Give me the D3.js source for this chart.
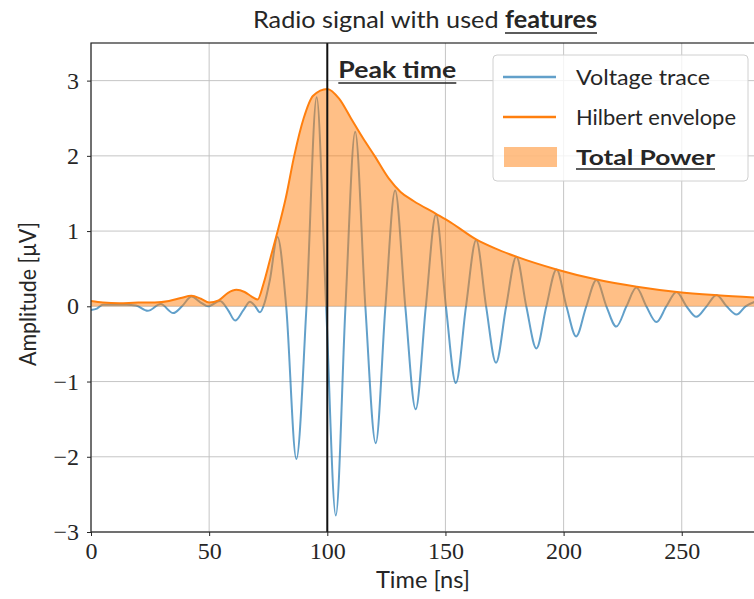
<!DOCTYPE html>
<html>
<head>
<meta charset="utf-8">
<script src="https://cdn.jsdelivr.net/npm/d3@7"></script>
<style>
body { margin: 0; background: #fff; }
text { fill: #262626; }
</style>
</head>
<body>
<svg id="chart" width="754" height="599"></svg>
<script>
"use strict";

// voltage trace, read at extrema and zero crossings [ns], [uV]
var trace_t = [0, 2.5, 5, 10, 15, 19, 24, 29.5, 34.8, 38.5, 42.6, 46, 49.6, 54.6, 58, 61, 64.5, 67.3, 69.5, 71.5, 73.5, 75.7,
    78.9, 82.6, 86.9, 91.2, 95.5, 99.5, 103.6, 107.7, 111.8, 116.1, 120.5, 124.6, 128.7, 133, 137.4, 141.7, 146,
    150.2, 154.4, 158.7, 163, 167.2, 171.4, 175.7, 180, 184.2, 188.5, 192.7, 197, 201.2, 205.3, 209.6, 213.9,
    218.1, 222.3, 226.6, 230.8, 235, 239.3, 243.5, 247.8, 252, 256.2, 260.5, 264.7, 269, 273.2, 277, 281];
var trace_v = [-0.05, -0.03, 0.02, 0.02, 0.02, 0.01, -0.06, 0.03, -0.09, 0.0, 0.13, 0.06, 0.0, 0.07, -0.05, -0.19, -0.05, 0.06, 0.0, -0.08, 0.05, 0.35,
    0.92, 0, -2.03, 0, 2.78, 0, -2.78, 0, 2.32, 0, -1.82, 0, 1.54, 0, -1.37, 0, 1.22,
    0, -1.02, 0, 0.88, 0, -0.75, 0, 0.66, 0, -0.56, 0, 0.49, 0, -0.40, 0, 0.35,
    0, -0.27, 0, 0.25, 0, -0.21, 0, 0.19, 0, -0.14, 0, 0.15, 0, -0.11, 0, 0.06];

// hilbert envelope
var env_t = [0, 5, 12, 20, 27, 33, 38, 42.5, 46.5, 50, 54, 58, 61.5, 65, 68, 70.5, 73, 76, 79, 82.5, 86, 90, 94,
    100, 105, 110, 115, 120, 126, 131, 136.5, 146, 152, 163, 171, 180, 197, 214, 231, 248, 265, 281];
var env_v = [0.07, 0.05, 0.04, 0.05, 0.05, 0.07, 0.11, 0.14, 0.10, 0.05, 0.08, 0.18, 0.22, 0.19, 0.13, 0.09, 0.3, 0.65, 1.0, 1.45, 2.0, 2.5, 2.8,
    2.89, 2.76, 2.5, 2.24, 2.0, 1.7, 1.52, 1.4, 1.23, 1.12, 0.89, 0.77, 0.66, 0.49, 0.355, 0.26, 0.19, 0.146, 0.115];

var x_ticks = [0, 50, 100, 150, 200, 250];
var y_ticks = [-3, -2, -1, 0, 1, 2, 3];
var peak_time = 100;
var legend_labels = ["Voltage trace", "Hilbert envelope", "Total Power"];

var sans = "Lato, 'Open Sans', sans-serif";
var serif = "'Liberation Serif', 'DejaVu Serif', serif";

var margin = {left: 91, top: 43, right: 755, bottom: 532};
var blue = "#1f77b4", orange = "#ff7f0e";

var svg = d3.select("#chart");

var x = d3.scaleLinear().domain([0, 281]).range([margin.left, margin.right]);
var y = d3.scaleLinear().domain([-3, 3.5]).range([margin.bottom, margin.top]);

function zip(ts, vs) {
    return ts.map(function(t, i) { return {t: t, v: vs[i]}; });
}
var trace = zip(trace_t, trace_v);
var env = zip(env_t, env_v);

// stretch a text to a given width (the reference font is narrower)
function fit(sel, width) {
    sel.attr("textLength", width).attr("lengthAdjust", "spacingAndGlyphs");
    return sel;
}

function underline(sel, from, to, dy) {
    var node = sel.node();
    var a = node.getExtentOfChar(from), b = node.getExtentOfChar(to);
    svg.append("line")
        .attr("x1", a.x).attr("x2", b.x + b.width)
        .attr("y1", a.y + a.height + dy).attr("y2", a.y + a.height + dy)
        .attr("stroke", "#262626").attr("stroke-width", 1.6);
}

svg.append("defs").append("clipPath").attr("id", "clip")
    .append("rect")
    .attr("x", margin.left).attr("y", margin.top)
    .attr("width", margin.right - margin.left).attr("height", margin.bottom - margin.top);

// grid
var grid = svg.append("g").attr("stroke", "#b0b0b0").attr("stroke-width", 0.9).attr("opacity", 0.8);
grid.selectAll("line.v").data(x_ticks).enter().append("line")
    .attr("x1", x).attr("x2", x).attr("y1", margin.top).attr("y2", margin.bottom);
grid.selectAll("line.h").data(y_ticks).enter().append("line")
    .attr("x1", margin.left).attr("x2", margin.right).attr("y1", y).attr("y2", y);

var plot = svg.append("g").attr("clip-path", "url(#clip)");

var line = d3.line().curve(d3.curveMonotoneX)
    .x(function(d) { return x(d.t); })
    .y(function(d) { return y(d.v); });
var area = d3.area().curve(d3.curveMonotoneX)
    .x(function(d) { return x(d.t); })
    .y0(y(0))
    .y1(function(d) { return y(d.v); });

plot.append("path").attr("d", line(trace))
    .attr("fill", "none").attr("stroke", blue).attr("stroke-width", 2).attr("stroke-opacity", 0.7);
plot.append("path").attr("d", area(env))
    .attr("fill", orange).attr("fill-opacity", 0.5);
plot.append("path").attr("d", line(env))
    .attr("fill", "none").attr("stroke", orange).attr("stroke-width", 2);

// peak time marker
svg.append("line")
    .attr("x1", x(peak_time)).attr("x2", x(peak_time))
    .attr("y1", margin.top).attr("y2", margin.bottom)
    .attr("stroke", "#111").attr("stroke-width", 2);
var peak_label = svg.append("text")
    .attr("x", x(peak_time) + 11).attr("y", 78)
    .attr("font-family", sans).attr("font-size", 22).attr("font-weight", "bold")
    .text("Peak time");
fit(peak_label, 118);
underline(peak_label, 0, 8, 0);

// axes
var x_axis = svg.append("g").attr("transform", "translate(0," + margin.bottom + ")")
    .call(d3.axisBottom(x).tickValues(x_ticks).tickSize(4).tickPadding(6).tickFormat(d3.format("d")));
var y_axis = svg.append("g").attr("transform", "translate(" + margin.left + ",0)")
    .call(d3.axisLeft(y).tickValues(y_ticks).tickSize(4).tickPadding(8).tickFormat(d3.format("d")));
[x_axis, y_axis].forEach(function(ax) {
    ax.select(".domain").remove();
    ax.selectAll(".tick line").attr("stroke", "#262626").attr("stroke-width", 1);
    ax.selectAll(".tick text").attr("font-family", serif).attr("font-size", 24).attr("fill", "#262626");
});

// spines
svg.append("rect")
    .attr("x", margin.left).attr("y", margin.top)
    .attr("width", margin.right - margin.left).attr("height", margin.bottom - margin.top)
    .attr("fill", "none").attr("stroke", "#262626").attr("stroke-width", 1.2);

// legend
var lg = svg.append("g");
lg.append("rect")
    .attr("x", 493).attr("y", 55).attr("width", 255).attr("height", 126).attr("rx", 4)
    .attr("fill", "#fff").attr("fill-opacity", 0.8).attr("stroke", "#d0d0d0");
var row_y = d3.scalePoint().domain(legend_labels).range([77, 157]);
lg.append("line").attr("x1", 503).attr("x2", 556).attr("y1", row_y(legend_labels[0])).attr("y2", row_y(legend_labels[0]))
    .attr("stroke", blue).attr("stroke-opacity", 0.7).attr("stroke-width", 2.5);
lg.append("line").attr("x1", 503).attr("x2", 556).attr("y1", row_y(legend_labels[1])).attr("y2", row_y(legend_labels[1]))
    .attr("stroke", orange).attr("stroke-width", 2.5);
lg.append("rect").attr("x", 504).attr("y", row_y(legend_labels[2]) - 10).attr("width", 53).attr("height", 20)
    .attr("fill", orange).attr("fill-opacity", 0.5);
var legend_widths = [134, 160, 139];
legend_labels.forEach(function(label, i) {
    var t = lg.append("text")
        .attr("x", 576).attr("y", row_y(label) + 8)
        .attr("font-family", sans).attr("font-size", 21)
        .attr("font-weight", i === 2 ? "bold" : "normal")
        .text(label);
    fit(t, legend_widths[i]);
    if(i === 2) underline(t, 0, label.length - 1, 0);
});

// title
var title = svg.append("text")
    .attr("x", 253).attr("y", 28)
    .attr("font-family", sans).attr("font-size", 24);
title.append("tspan").text("Radio signal with used ");
title.append("tspan").attr("font-weight", "bold").text("features");
fit(title, 344);
underline(title, 23, 30, 0);

// axis labels
fit(svg.append("text")
    .attr("x", 376).attr("y", 588)
    .attr("font-family", sans).attr("font-size", 23)
    .text("Time [ns]"), 94);
fit(svg.append("text")
    .attr("transform", "translate(36,366) rotate(-90)")
    .attr("font-family", sans).attr("font-size", 23)
    .text("Amplitude [µV]"), 144);
</script>
</body>
</html>
